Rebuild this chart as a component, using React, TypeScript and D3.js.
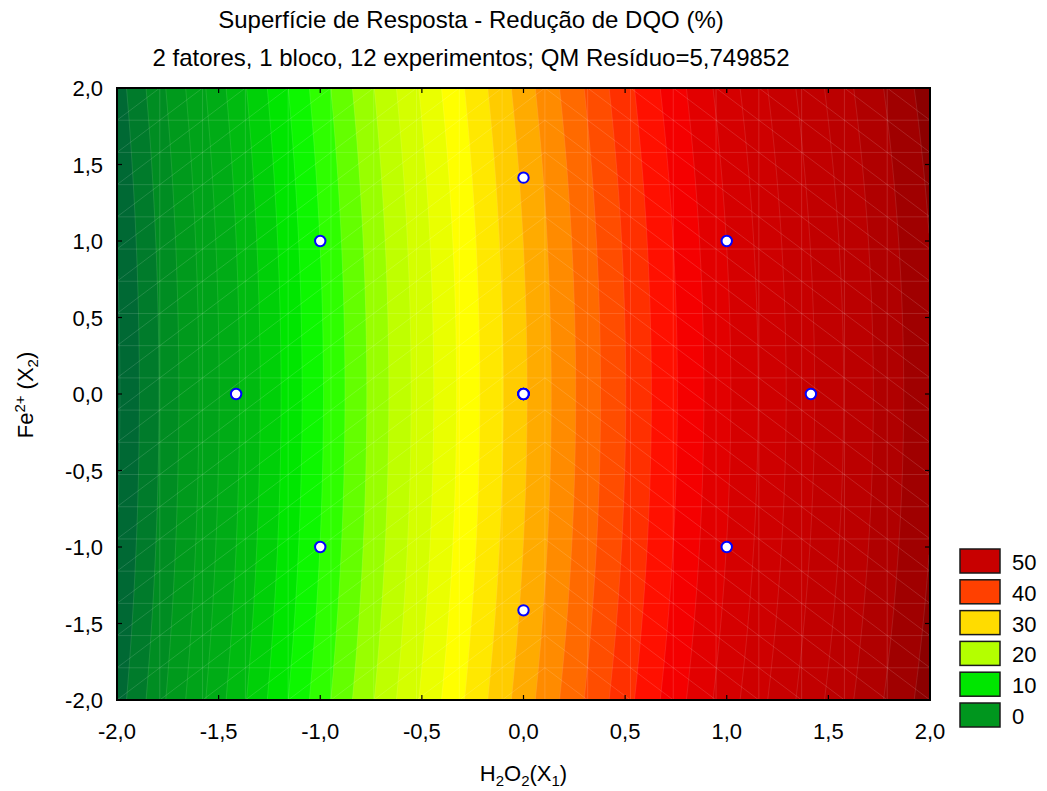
import React from "react";
import * as d3 from "d3";

const W = 1047;
const H = 791;

// Axes
const xDomain = [-2, 2];
const yDomain = [-2, 2];
const xTickValues = [-2, -1.5, -1, -0.5, 0, 0.5, 1, 1.5, 2];
const yTickValues = [2, 1.5, 1, 0.5, 0, -0.5, -1, -1.5, -2];

// Fitted quadratic model (coded units): b0, b1 (X1), b2 (X2), b11 (X1^2), b22 (X2^2), b12 (X1*X2)
const modelCoefficients = [31.7, 17.0, 0.0, -1.0, 0.33, 0.0];

// Design points (central composite design, 12 runs)
const designX1 = [-1, 1, -1, 1, -1.414, 1.414, 0, 0, 0, 0, 0, 0];
const designX2 = [-1, -1, 1, 1, 0, 0, -1.414, 1.414, 0, 0, 0, 0];

// Contour levels
const levelStep = 2;
const contourLevels = d3.range(-10, 72, levelStep);

// Colour ramp
const rampValues = [-6, 0, 6, 11, 14, 20, 27, 30, 38, 40, 44, 48, 54, 58, 61, 63];
const rampColors = [
  "#006038", "#00961e", "#00b014", "#00e600", "#14ff00", "#b4ff00", "#ffff00", "#ffdc00",
  "#ff5a00", "#ff4000", "#ff0000", "#d80000", "#c40000", "#b80000", "#a00000", "#8c0000",
];

// Legend
const legendLevels = [50, 40, 30, 20, 10, 0];
const legendColors = ["#c80000", "#ff4000", "#ffdc00", "#b4ff00", "#00e600", "#00961e"];

const title1 = "Superfície de Resposta - Redução de DQO (%)";
const title2 = "2 fatores, 1 bloco, 12 experimentos; QM Resíduo=5,749852";

const FONT = "'Liberation Sans', Arial, Helvetica, sans-serif";
const FS = 22;
const FS_TITLE = 24;
const FS_SMALL = 15;

function model(x1: number, x2: number) {
  const [b0, b1, b2, b11, b22, b12] = modelCoefficients;
  return b0 + b1 * x1 + b2 * x2 + b11 * x1 * x1 + b22 * x2 * x2 + b12 * x1 * x2;
}

const fmt = (v: number) => d3.format(".1f")(v).replace(".", ",").replace("−", "-");

export default function App() {
  const left = 117, right = 930, top = 88, bottom = 700;
  const x = d3.scaleLinear().domain(xDomain).range([left, right]);
  const y = d3.scaleLinear().domain(yDomain).range([bottom, top]);
  const color = d3.scaleLinear<string>().domain(rampValues).range(rampColors).clamp(true);

  const nx = 406, ny = 306;
  const grid: number[] = new Array(nx * ny);
  for (let j = 0; j < ny; j++) {
    const yv = yDomain[1] - ((j + 0.5) / ny) * (yDomain[1] - yDomain[0]);
    for (let i = 0; i < nx; i++) {
      const xv = xDomain[0] + ((i + 0.5) / nx) * (xDomain[1] - xDomain[0]);
      grid[j * nx + i] = model(xv, yv);
    }
  }
  const contours = d3.contours().size([nx, ny]).thresholds(contourLevels)(grid);
  const transform = d3.geoTransform({
    point(px: number, py: number) {
      (this as any).stream.point(
        x(xDomain[0] + (px / nx) * (xDomain[1] - xDomain[0])),
        y(yDomain[1] - (py / ny) * (yDomain[1] - yDomain[0]))
      );
    },
  });
  const path = d3.geoPath(transform);

  // triangulation mesh (20 x 20 nodes)
  const meshN = 19;
  const mx = d3.range(meshN + 1).map((k) => left + ((right - left) * k) / meshN);
  const my = d3.range(meshN + 1).map((k) => top + ((bottom - top) * k) / meshN);
  const meshLines: string[] = [];
  for (let k = 1; k < meshN; k++) {
    meshLines.push(`M${mx[k]},${top}V${bottom}`);
    meshLines.push(`M${left},${my[k]}H${right}`);
  }
  for (let i = 0; i < meshN; i++) {
    for (let j = 0; j < meshN; j++) {
      if (i < 10) meshLines.push(`M${mx[i]},${my[j + 1]}L${mx[i + 1]},${my[j]}`);
      else meshLines.push(`M${mx[i]},${my[j]}L${mx[i + 1]},${my[j + 1]}`);
    }
  }

  const legendX = 960;
  const legendTop = 549;
  const legendStep = 30.8;
  const cx = (left + right) / 2;
  const titleX = 471;

  return (
    <svg width={W} height={H} style={{ display: "block", position: "absolute", left: 0, top: 0 }} fontFamily={FONT}>
      <rect x={0} y={0} width={W} height={H} fill="#ffffff" />
      <defs>
        <clipPath id="plotClip">
          <rect x={left} y={top} width={right - left} height={bottom - top} />
        </clipPath>
      </defs>
      <text x={titleX} y={28} textAnchor="middle" fontSize={FS_TITLE} fill="#000">{title1}</text>
      <text x={titleX} y={66} textAnchor="middle" fontSize={FS_TITLE} fill="#000">{title2}</text>

      <g clipPath="url(#plotClip)">
        {contours.map((c, i) => (
          <path key={i} d={path(c as any) || ""} fill={color(c.value + levelStep / 2)} stroke={color(c.value + levelStep / 2)} strokeWidth={0.3} />
        ))}
        {contours.map((c, i) => (
          <path key={"s" + i} d={path(c as any) || ""} fill="none" stroke="#ffffff" strokeOpacity={0.13} strokeWidth={0.8} />
        ))}
        <path d={meshLines.join("")} fill="none" stroke="#ffffff" strokeOpacity={0.17} strokeWidth={0.8} />
        {designX1.map((d, i) => (
          <circle key={i} cx={x(d)} cy={y(designX2[i])} r={5.2} fill="#ffffff" stroke="#0000ff" strokeWidth={2} />
        ))}
      </g>

      {/* frame */}
      <rect x={left} y={top} width={right - left} height={bottom - top} fill="none" stroke="#000" strokeWidth={2} />
      {/* ticks */}
      {xTickValues.map((v) => (
        <g key={"xt" + v}>
          <line x1={x(v)} x2={x(v)} y1={bottom} y2={bottom - 5} stroke="#000" strokeWidth={1.2} />
          <line x1={x(v)} x2={x(v)} y1={top} y2={top + 5} stroke="#000" strokeWidth={1.2} />
          <text x={x(v)} y={739} textAnchor="middle" fontSize={FS} fill="#000">{fmt(v)}</text>
        </g>
      ))}
      {yTickValues.map((v) => (
        <g key={"yt" + v}>
          <line x1={left} x2={left + 5} y1={y(v)} y2={y(v)} stroke="#000" strokeWidth={1.2} />
          <line x1={right} x2={right - 5} y1={y(v)} y2={y(v)} stroke="#000" strokeWidth={1.2} />
          <text x={103} y={y(v) + 8} textAnchor="end" fontSize={FS} fill="#000">{fmt(v)}</text>
        </g>
      ))}

      {/* axis titles */}
      <text x={cx} y={781} textAnchor="middle" fontSize={FS} fill="#000">
        <tspan>H</tspan>
        <tspan fontSize={FS_SMALL} dy={5}>2</tspan>
        <tspan dy={-5}>O</tspan>
        <tspan fontSize={FS_SMALL} dy={5}>2</tspan>
        <tspan dy={-5}>(X</tspan>
        <tspan fontSize={FS_SMALL} dy={5}>1</tspan>
        <tspan dy={-5}>)</tspan>
      </text>
      <text transform={`translate(33,${(top + bottom) / 2 + 1}) rotate(-90)`} textAnchor="middle" fontSize={FS} fill="#000">
        <tspan>Fe</tspan>
        <tspan fontSize={FS_SMALL} dy={-8}>2+</tspan>
        <tspan dy={8}> (X</tspan>
        <tspan fontSize={FS_SMALL} dy={5}>2</tspan>
        <tspan dy={-5}>)</tspan>
      </text>

      {/* legend */}
      {legendLevels.map((lv, i) => (
        <g key={"lg" + lv}>
          <rect x={legendX} y={legendTop + i * legendStep} width={40} height={24} fill={legendColors[i]} stroke="#1a1a1a" strokeWidth={1.5} />
          <text x={1012} y={legendTop + i * legendStep + 21} fontSize={FS} fill="#000">{lv}</text>
        </g>
      ))}
    </svg>
  );
}
